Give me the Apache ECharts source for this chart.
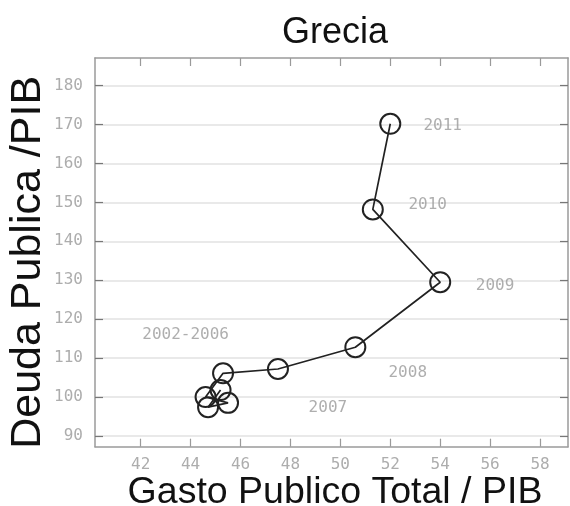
<!DOCTYPE html>
<html>
<head>
<meta charset="utf-8">
<script src="https://cdn.jsdelivr.net/npm/echarts@6/dist/echarts.min.js"></script>
<style>html,body{margin:0;padding:0;background:#fff;}#c{width:570px;height:506px;}</style>
</head>
<body>
<div id="c"></div>
<script>
// Gasto publico total / PIB (x) and Deuda publica / PIB (y), Grecia 2002-2011
const years = ['2002','2003','2004','2005','2006','2007','2008','2009','2010','2011'];
const gasto = [45.2, 44.7, 45.5, 44.6, 45.3, 47.5, 50.6, 54.0, 51.3, 52.0];
const deuda = [101.8, 97.4, 98.5, 100.0, 106.1, 107.2, 112.8, 129.5, 148.2, 170.2];

// Annotation labels (placed in data coordinates)
const noteText = ['2011', '2010', '2009', '2002-2006', '2008', '2007'];
const noteX = [54.1, 53.5, 56.2, 43.8, 52.7, 49.5];
const noteY = [169.6, 149.3, 128.6, 116.0, 106.1, 97.3];

// Tick values
const xTicks = [42, 44, 46, 48, 50, 52, 54, 56, 58];
const yTicks = [90, 100, 110, 120, 130, 140, 150, 160, 170, 180];
const xRange = [40.17, 59.12];
const yRange = [87.24, 187.1];

const mono = 'DejaVu Sans Mono';
const sans = 'Liberation Sans';
const frameColor = '#9a9a9a';
const tickLabelColor = '#adadad';

function xAxisDef(pos, showLabel) {
  return {
    type: 'value', position: pos, min: xRange[0], max: xRange[1],
    axisLine: { show: true, onZero: false, lineStyle: { color: frameColor, width: 1.5 } },
    axisTick: { show: true, inside: true, length: 8, customValues: xTicks, lineStyle: { color: frameColor, width: 1.2 } },
    axisLabel: { show: showLabel, customValues: xTicks, color: tickLabelColor, fontFamily: mono, fontSize: 16, margin: 10 },
    splitLine: { show: false }
  };
}
function yAxisDef(pos, showLabel) {
  return {
    type: 'value', position: pos, min: yRange[0], max: yRange[1],
    axisLine: { show: true, onZero: false, lineStyle: { color: frameColor, width: 1.5 } },
    axisTick: { show: true, inside: true, length: 8, customValues: yTicks, lineStyle: { color: '#777', width: 1.2 } },
    axisLabel: { show: showLabel, customValues: yTicks, color: tickLabelColor, fontFamily: mono, fontSize: 16, margin: 12 },
    splitLine: { show: showLabel, lineStyle: { color: '#e2e2e2', width: 1.5 } }
  };
}

const xa0 = xAxisDef('bottom', true);
xa0.name = 'Gasto Publico Total / PIB';
xa0.nameLocation = 'middle';
xa0.nameGap = 27;
xa0.nameMoveOverlap = false;
xa0.nameTextStyle = { fontFamily: sans, fontSize: 37.5, color: '#111', padding: [0, 0, 0, 7] };

const ya0 = yAxisDef('left', true);
ya0.name = 'Deuda Publica /PIB';
ya0.nameLocation = 'middle';
ya0.nameGap = 45;
ya0.nameMoveOverlap = false;
ya0.nameTextStyle = { fontFamily: sans, fontSize: 43, color: '#111', padding: [0, 20, 0, 0] };

const chart = echarts.init(document.getElementById('c'), null, { renderer: 'canvas' });
chart.setOption({
  animation: false,
  backgroundColor: '#fff',
  title: {
    text: 'Grecia', left: 330, top: 10, textAlign: 'center',
    textStyle: { fontFamily: sans, fontSize: 36, fontWeight: 'normal', color: '#111' }
  },
  grid: { left: 95, top: 58, right: 2, bottom: 59.3, containLabel: false, outerBoundsMode: 'none' },
  xAxis: [xa0, xAxisDef('top', false)],
  yAxis: [ya0, yAxisDef('right', false)],
  series: [
    {
      type: 'line',
      data: gasto.map((g, i) => [g, deuda[i], years[i]]),
      symbol: 'circle', symbolSize: 20,
      lineStyle: { color: '#222', width: 1.7 },
      itemStyle: { color: 'rgba(0,0,0,0)', borderColor: '#222', borderWidth: 2 },
      z: 3
    },
    {
      type: 'scatter',
      data: noteText.map((t, i) => ({ value: [noteX[i], noteY[i]], name: t })),
      symbolSize: 0,
      label: {
        show: true, position: 'inside', formatter: p => p.name,
        color: '#9a9a9a', fontFamily: mono, fontSize: 16
      },
      z: 4
    }
  ]
});
</script>
</body>
</html>
